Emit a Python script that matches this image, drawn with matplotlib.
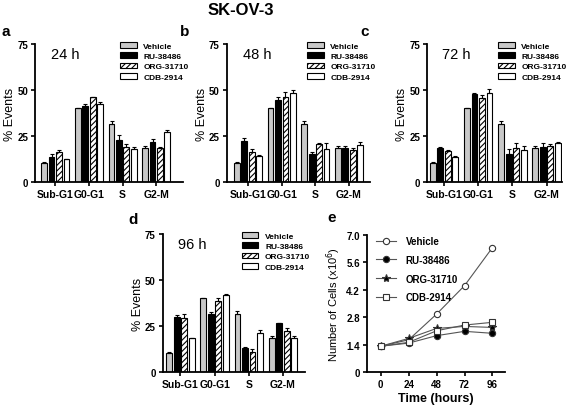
import numpy as np
import matplotlib
matplotlib.use("Agg")
import matplotlib.pyplot as plt
from matplotlib.patches import Patch

plt.rcParams['font.family'] = ['Liberation Sans', 'DejaVu Sans']
plt.rcParams['hatch.linewidth'] = 0.8

phases = ["Sub-G1", "G0-G1", "S", "G2-M"]
treatments = ["Vehicle", "RU-38486", "ORG-31710", "CDB-2914"]

# % events per treatment, per phase (Sub-G1, G0-G1, S, G2-M)
h24 = [[10.5, 40.0, 31.6, 18.4],
       [13.5, 41.2, 23.0, 22.0],
       [16.5, 46.0, 19.3, 18.4],
       [12.5, 42.5, 18.0, 27.0]]
h24_err = [[0.3, 0.4, 1.5, 1.3],
           [1.5, 1.5, 2.5, 1.5],
           [1.2, 0.5, 1.5, 0.5],
           [0.3, 1.0, 1.0, 1.5]]
h48 = [[10.5, 40.0, 31.6, 18.5],
       [22.5, 44.5, 15.0, 18.5],
       [16.5, 46.0, 20.5, 17.5],
       [14.0, 48.5, 18.0, 20.0]]
h48_err = [[0.3, 0.4, 1.5, 1.0],
           [1.5, 1.5, 1.5, 1.0],
           [1.5, 3.0, 1.0, 1.0],
           [0.5, 1.5, 3.0, 2.0]]
h72 = [[10.5, 40.0, 31.6, 18.5],
       [18.5, 48.0, 15.0, 19.0],
       [17.0, 45.5, 18.5, 19.5],
       [13.5, 48.5, 17.5, 21.0]]
h72_err = [[0.3, 0.4, 1.5, 1.0],
           [0.5, 0.5, 3.0, 2.0],
           [0.5, 2.0, 2.5, 1.0],
           [0.5, 2.0, 2.0, 1.0]]
h96 = [[10.5, 40.0, 31.6, 18.3],
       [29.8, 31.6, 13.2, 26.6],
       [29.5, 38.9, 10.8, 22.1],
       [18.4, 42.0, 21.3, 18.8]]
h96_err = [[0.3, 0.4, 1.5, 1.5],
           [1.5, 1.0, 0.3, 0.3],
           [2.0, 1.5, 2.0, 2.0],
           [0.3, 0.5, 1.5, 1.0]]

hours = [0, 24, 48, 72, 96]
cells_vehicle = [1.32, 1.65, 2.96, 4.41, 6.35]
cells_ru = [1.32, 1.48, 1.86, 2.08, 1.98]
cells_org = [1.32, 1.72, 2.23, 2.33, 2.28]
cells_cdb = [1.32, 1.52, 2.11, 2.40, 2.54]

faces = ["#c8c8c8", "black", "white", "white"]
hatches = [None, None, "//////", None]


def bar_panel(fig, rect, label, vals, errs, xlim):
    ax = fig.add_axes(rect)
    x = np.arange(len(phases))
    slot = 0.22
    for i in range(4):
        pos = x + (i - 1.5) * slot
        ax.bar(pos, vals[i], width=0.17, color=faces[i], edgecolor="black",
               linewidth=0.8, hatch=hatches[i], zorder=2)
        ax.errorbar(pos, vals[i], yerr=[np.zeros(4), errs[i]], fmt="none",
                    ecolor="black", elinewidth=0.8, capsize=1.5, capthick=0.8,
                    zorder=3)
    ax.set_ylim(0, 75)
    ax.set_xlim(*xlim)
    ax.set_yticks([0, 25, 50, 75])
    ax.set_xticks(x)
    ax.set_xticklabels(phases, fontsize=7.5, fontweight="bold")
    ax.tick_params(axis="y", labelsize=7, width=1.2, length=3, pad=2)
    ax.tick_params(axis="x", width=1.2, length=3, pad=2)
    for t in ax.get_yticklabels():
        t.set_fontweight("bold")
    for s in ["top", "right"]:
        ax.spines[s].set_visible(False)
    for s in ["left", "bottom"]:
        ax.spines[s].set_linewidth(1.3)
    ax.set_ylabel("% Events", fontsize=9, labelpad=1)
    ax.text(0.11, 0.93, label, transform=ax.transAxes, fontsize=10.5,
            va="center")
    handles = [Patch(facecolor=faces[i], edgecolor="black", hatch=hatches[i],
                     linewidth=0.8) for i in range(4)]
    ax.legend(handles, treatments, loc="upper right", bbox_to_anchor=(1.06, 1.04),
              frameon=False, handlelength=2.0, handleheight=0.7,
              labelspacing=0.3, handletextpad=0.8, borderaxespad=0,
              prop={"weight": "bold", "size": 6})
    return ax


fig = plt.figure(figsize=(5.67, 4.06), dpi=100)
fig.text(0.425, 0.975, "SK-OV-3", fontsize=12, fontweight="bold",
         ha="center", va="center")

bar_panel(fig, [0.062, 0.549, 0.261, 0.340], "24 h", h24, h24_err, (-0.6, 3.8))
bar_panel(fig, [0.400, 0.549, 0.253, 0.340], "48 h", h48, h48_err, (-0.63, 3.63))
bar_panel(fig, [0.753, 0.549, 0.238, 0.340], "72 h", h72, h72_err, (-0.5, 3.45))
bar_panel(fig, [0.287, 0.081, 0.251, 0.340], "96 h", h96, h96_err, (-0.52, 3.65))

for txt, xf, yf in [("a", 0.003, 0.92), ("b", 0.318, 0.92), ("c", 0.635, 0.92),
                    ("d", 0.226, 0.458), ("e", 0.578, 0.462)]:
    fig.text(xf, yf, txt, fontsize=11, fontweight="bold", va="center")

ax = fig.add_axes([0.647, 0.081, 0.244, 0.338])
series = [(cells_vehicle, "o", "white"), (cells_ru, "o", "black"),
          (cells_org, "*", "black"), (cells_cdb, "s", "white")]
for (vals, mk, fc), name in zip(series, treatments):
    ax.plot(hours, vals, color="#555555", lw=0.8, marker=mk,
            markerfacecolor=fc, markeredgecolor="#333333",
            markersize=6 if mk == "*" else 4.5, markeredgewidth=0.8, label=name)
ax.set_xlim(-12, 107)
ax.set_ylim(0, 7.0)
ax.set_xticks(hours)
ax.set_yticks([0, 1.4, 2.8, 4.2, 5.6, 7.0])
ax.set_yticklabels(["0", "1.4", "2.8", "4.2", "5.6", "7.0"])
ax.tick_params(labelsize=7, width=1.2, length=3, pad=2)
for t in ax.get_xticklabels() + ax.get_yticklabels():
    t.set_fontweight("bold")
for s in ["top", "right"]:
    ax.spines[s].set_visible(False)
for s in ["left", "bottom"]:
    ax.spines[s].set_linewidth(1.3)
ax.set_xlabel("Time (hours)", fontsize=9, fontweight="bold", labelpad=2)
ax.set_ylabel("Number of Cells (x10$^6$)", fontsize=8, labelpad=2)
ax.legend(loc="upper left", bbox_to_anchor=(0.04, 1.02), frameon=False,
          handlelength=2.0, labelspacing=0.9, handletextpad=1.0,
          borderaxespad=0, prop={"weight": "bold", "size": 7})

fig.savefig("out.png", dpi=100)
